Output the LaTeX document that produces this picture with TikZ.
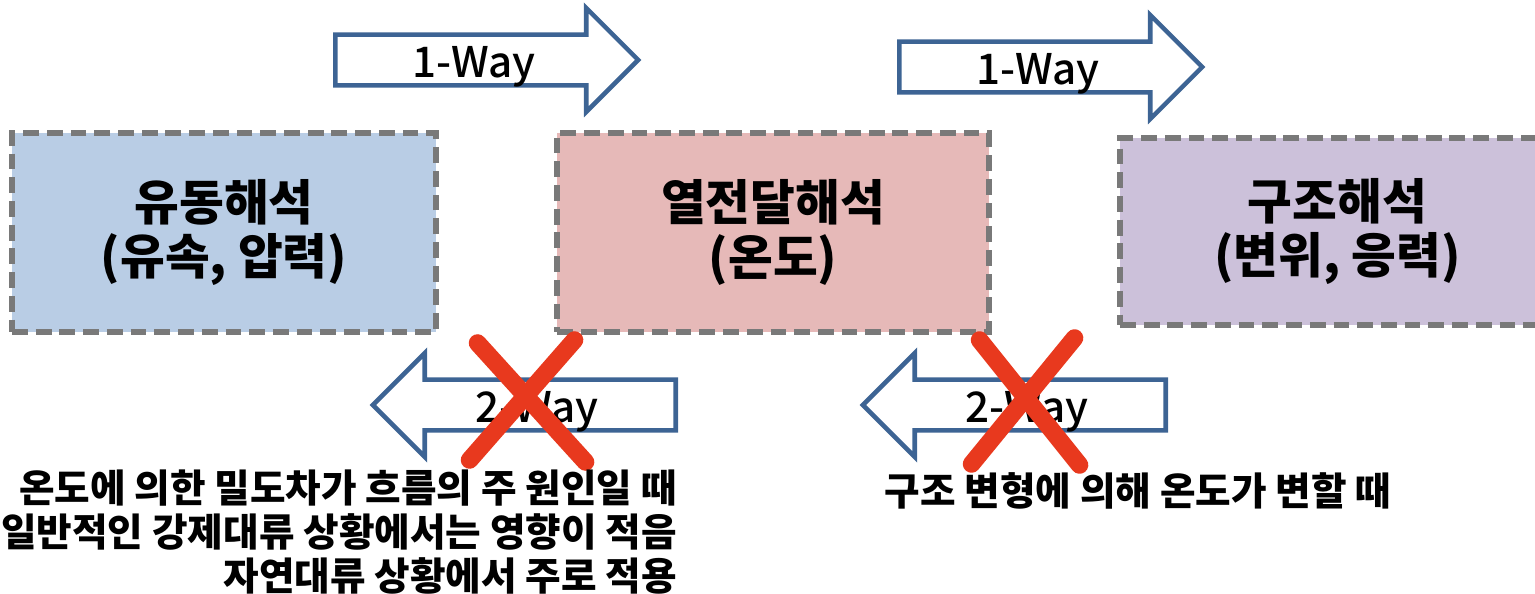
\documentclass[tikz,border=0pt]{standalone}
\usepackage{fontspec}
\setmainfont{Noto Sans CJK KR}
\newfontfamily\wayfont{Noto Sans CJK KR Medium}
\usetikzlibrary{positioning,shapes.arrows}
\definecolor{fluidfill}{HTML}{B9CDE5}
\definecolor{heatfill}{HTML}{E6B9B8}
\definecolor{solidfill}{HTML}{CCC1DA}
\definecolor{edgeblue}{HTML}{3D6494}
\definecolor{crossred}{HTML}{E8391E}

\begin{document}
\begin{tikzpicture}[x=0.02cm, y=-0.02cm,
  stage/.style={rectangle, draw=gray!95!black, fill=#1, line width=3.3pt,
    dash pattern=on 9pt off 4.5pt, minimum width=8.48cm, minimum height=3.98cm,
    align=center, font=\fontsize{27.7}{31}\selectfont\bfseries},
  flow/.style={single arrow, draw=edgeblue, line width=2.6pt, fill=white,
    minimum height=6.06cm, minimum width=2.08cm, single arrow head extend=0.5cm,
    single arrow tip angle=90, inner sep=0pt, text height=22pt, text depth=2.4pt,
    font=\fontsize{24}{28}\selectfont\wayfont},
  cross/.style={draw=crossred, line width=10pt, line cap=round},
  note/.style={align=right, font=\fontsize{22}{25}\selectfont\bfseries}]
  \useasboundingbox (0,0) rectangle (1535,594);
  % analysis boxes
  \node[stage=fluidfill] (fluid) at (224,232.5) {유동해석\\(유속, 압력)};
  \node[stage=heatfill, minimum width=8.64cm] (heat) at (773,232.5) {열전달해석\\(온도)};
  \node[stage=solidfill, minimum width=8.7cm, minimum height=3.74cm] (solid) at (1337.5,231.5) {구조해석\\(변위, 응력)};
  % coupling arrows
  \node[flow, anchor=tail] (one1) at (333,60) {1-Way};
  \node[flow, anchor=tail] (one2) at (897,67) {1-Way};
  \node[flow, anchor=tail, shape border rotate=180] (two1) at (678,405) {2-Way};
  \node[flow, anchor=tail, shape border rotate=180] (two2) at (1168,405) {2-Way};
  % crossed out
  \draw[cross] ([shift={(108,-62)}]two1.tip) -- ([shift={(216,57)}]two1.tip);
  \draw[cross] ([shift={(205,-65)}]two1.tip) -- ([shift={(100,55)}]two1.tip);
  \draw[cross] ([shift={(120,-65)}]two2.tip) -- ([shift={(220,60)}]two2.tip);
  \draw[cross] ([shift={(215,-67)}]two2.tip) -- ([shift={(112,59)}]two2.tip);
  % notes
  \node[note, anchor=north east] (why1) at (683,464) {온도에 의한 밀도차가 흐름의 주 원인일 때\\일반적인 강제대류 상황에서는 영향이 적음\\자연대류 상황에서 주로 적용};
  \node[note] (why2) at (1138,491) {구조 변형에 의해 온도가 변할 때};
\end{tikzpicture}
\end{document}
